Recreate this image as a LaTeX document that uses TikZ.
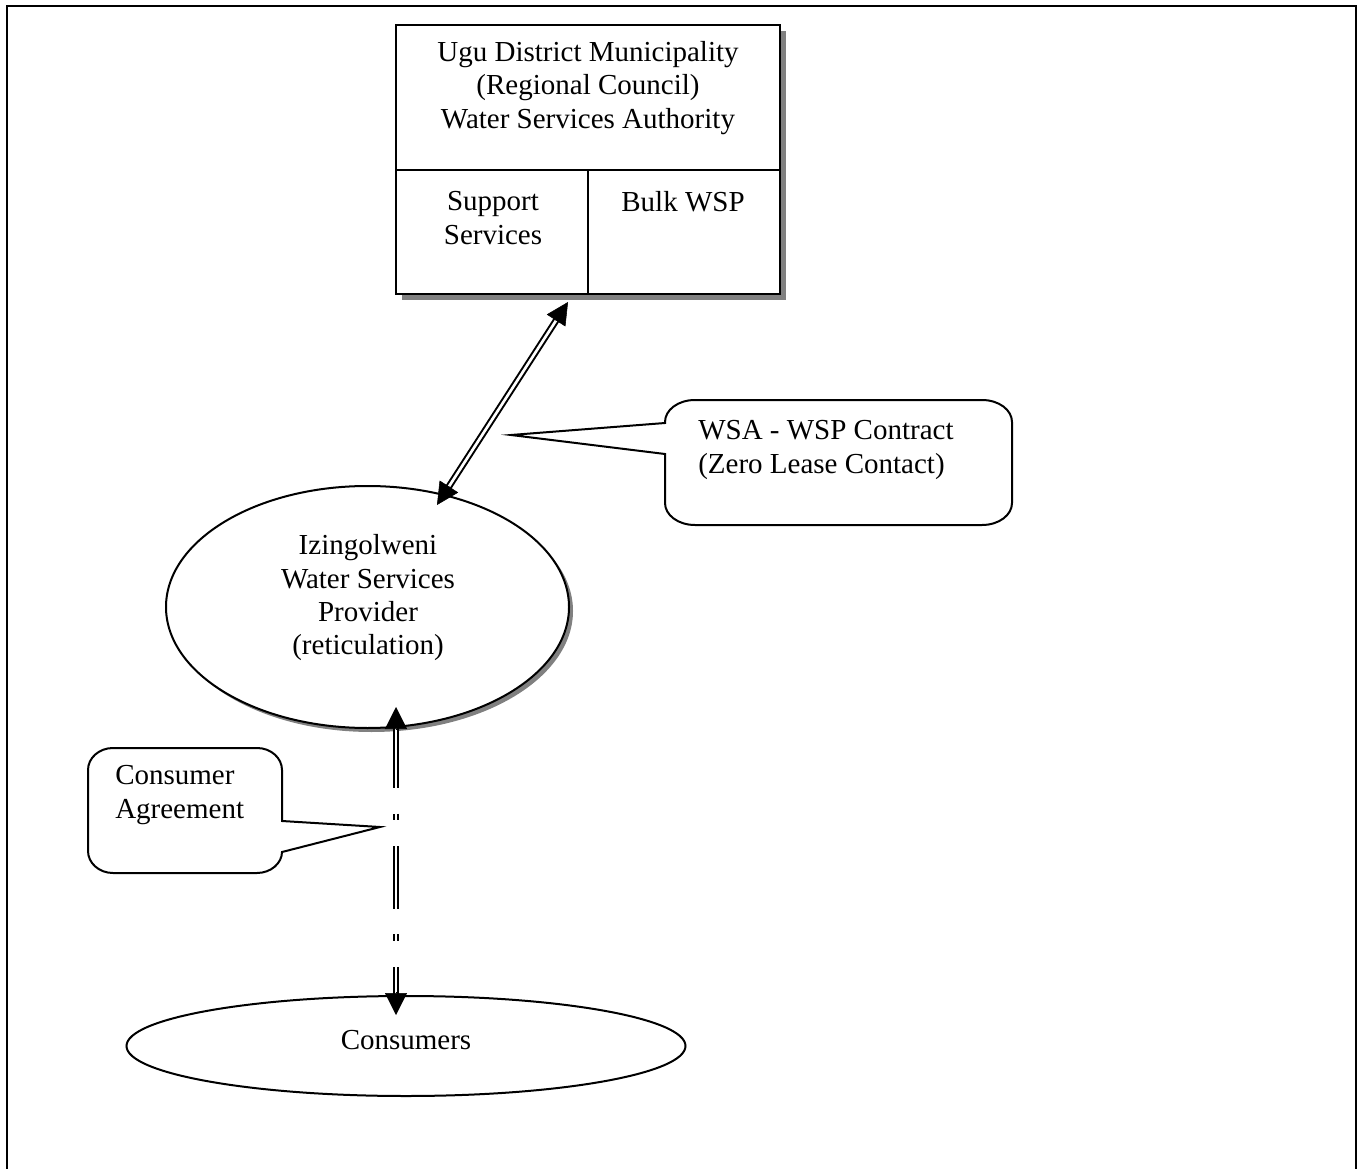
\documentclass[tikz,border=0pt]{standalone}
\usepackage{fontspec}
\setmainfont{Liberation Serif}
\usetikzlibrary{shapes.geometric,arrows.meta,calc}
\begin{document}
\begin{tikzpicture}[x=0.75pt,y=-0.75pt,
  every node/.style={font=\fontsize{21.75pt}{25pt}\selectfont, inner sep=0pt},
  frameline/.style={line width=1.9pt},
  shapeline/.style={line width=1.5pt},
  shadowfill/.style={fill=black!50, draw=none},
  txt/.style={align=center},
  dbl/.style={double=white, double distance=2pt, line width=1.5pt},
  tipend/.style={line width=0.4pt, -{Triangle[length=16.5pt,width=16.5pt]}},
]
\useasboundingbox (0,0) rectangle (1363,1169);
\fill[white] (0,0) rectangle (1363,1169);

% outer frame (open at the bottom)
\draw[frameline] (7,1180) -- (7,6) -- (1356,6) -- (1356,1180);

% top box with shadow
\fill[shadowfill] (402,31) rectangle (786,300);
\node[draw, shapeline, fill=white, minimum width=288pt, minimum height=201.75pt] (wsa) at (588,159.5) {};
\draw[shapeline] (wsa.west |- 0,170) -- (wsa.east |- 0,170);
\draw[shapeline] (588,170) -- (wsa.south);
\node[txt] (ugu) at (588,88) {Ugu District Municipality\\(Regional Council)\\Water Services Authority};
\node[txt] (supp) at (493,218) {Support\\Services};
\node (bulk) at (683,202) {Bulk WSP};

% provider ellipse with shadow
\node[ellipse, shadowfill, minimum width=302.25pt, minimum height=181.5pt] (izishadow) at (371.5,611) {};
\node[ellipse, draw, shapeline, fill=white, minimum width=302.25pt, minimum height=181.5pt] (izi) at (367.5,607) {};
\node[txt] (izitext) at (368,598) {Izingolweni\\Water Services\\Provider\\(reticulation)};

% consumers ellipse
\node[ellipse, draw, shapeline, minimum width=419.25pt, minimum height=75pt] (cons) at (406,1046) {};
\node (constext) at (406,1040) {Consumers};

% WSA - WSP arrow
\coordinate (t1) at (568,302);
\coordinate (t2) at (437,505);
\draw[dbl, shorten <=14pt, shorten >=14pt] (t2) -- (t1);
\draw[tipend] ($(t2)!17pt!(t1)$) -- (t2);
\draw[tipend] ($(t1)!17pt!(t2)$) -- (t1);

% consumer agreement arrow
\coordinate (u1) at (396,707);
\coordinate (u2) at (396,1015);
\draw[dbl, dash pattern=on 47pt off 19pt on 5pt off 19.5pt, shorten <=14pt, shorten >=14pt] (u1) -- (u2);
\draw[tipend] ($(u1)!17pt!(u2)$) -- (u1);
\draw[tipend] ($(u2)!17pt!(u1)$) -- (u2);

% callout 1
\draw[shapeline] (665,423) -- (511,435) -- (665,454) -- (665,503)
  .. controls (665,515) and (678,525) .. (695,525) -- (982,525)
  .. controls (999,525) and (1012,515) .. (1012,503) -- (1012,422)
  .. controls (1012,410) and (999,400) .. (982,400) -- (695,400)
  .. controls (678,400) and (665,410) .. (665,422) -- cycle;
\node[align=left, anchor=west] (contract) at (698,450) {WSA - WSP Contract\\(Zero Lease Contact)};

% callout 2
\draw[shapeline] (282,821) -- (380,827) -- (282,852)
  .. controls (282,863) and (271,873) .. (257,873) -- (113,873)
  .. controls (99,873) and (88,863) .. (88,851) -- (88,770)
  .. controls (88,758) and (99,748) .. (113,748) -- (257,748)
  .. controls (271,748) and (282,758) .. (282,770) -- cycle;
\node[align=left, anchor=west] (cagr) at (115,795) {Consumer\\Agreement};
\end{tikzpicture}
\end{document}
